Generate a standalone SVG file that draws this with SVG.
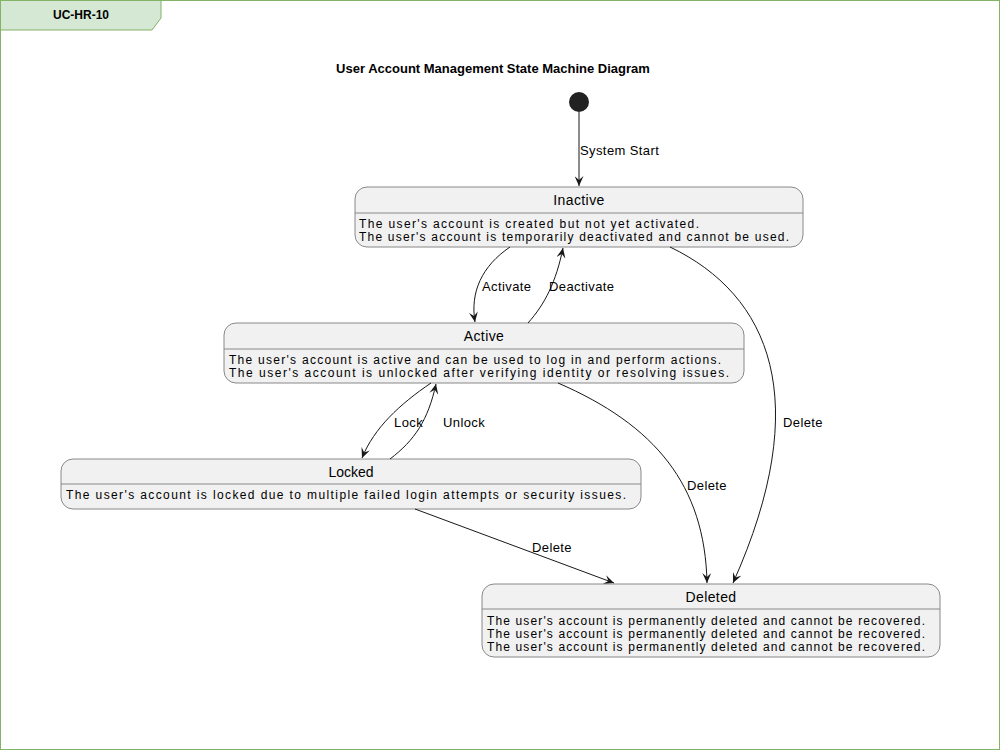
<svg xmlns="http://www.w3.org/2000/svg" width="1001" height="751" viewBox="0 0 1001 751">
<defs>
<marker id="ah" viewBox="0 0 10 9" refX="10" refY="4.5" markerWidth="10" markerHeight="9" markerUnits="userSpaceOnUse" orient="auto">
<path d="M0,0 L10,4.5 L0,9 L4,4.5 Z" fill="#181818"/>
</marker>
<style>
.frame{fill:#ffffff;stroke:#82b366;stroke-width:1}
.tab{fill:#d5e8d4;stroke:#82b366;stroke-width:1}
.box{fill:#f1f1f1;stroke:#888888;stroke-width:1}
.sep{stroke:#888888;stroke-width:1}
.name{font-family:"Liberation Sans",Arial,sans-serif;font-size:14px;fill:#000;text-anchor:middle;letter-spacing:0.4px}
.body{font-family:"Liberation Sans",Arial,sans-serif;font-size:12px;fill:#000}
.lbl{font-family:"Liberation Sans",Arial,sans-serif;font-size:13px;fill:#000;letter-spacing:0.4px}
.edge{fill:none;stroke:#181818;stroke-width:1;marker-end:url(#ah)}
</style>
</defs>
<rect class="frame" x="0.5" y="0.5" width="999" height="749"/>
<g id="tab">
<path class="tab" d="M0.5,0.5 L161,0.5 L161,18 L152,30 L0.5,30 Z"/>
<text x="81" y="19" font-family="Liberation Sans,Arial,sans-serif" font-size="12" font-weight="bold" text-anchor="middle">UC-HR-10</text>
</g>
<text id="title" x="493" y="73" font-family="Liberation Sans,Arial,sans-serif" font-size="13" font-weight="bold" text-anchor="middle">User Account Management State Machine Diagram</text>
<g id="start"><circle cx="579" cy="102" r="10" fill="#222222"/></g>
<g id="inactive">
<rect class="box" x="355" y="187" width="448" height="60" rx="12"/>
<line class="sep" x1="355" y1="213" x2="803" y2="213"/>
<text class="name" x="579" y="205">Inactive</text>
<text class="body" x="359" y="228" textLength="340" lengthAdjust="spacing">The user's account is created but not yet activated.</text>
<text class="body" x="359" y="241" textLength="430" lengthAdjust="spacing">The user's account is temporarily deactivated and cannot be used.</text>
</g>
<g id="active">
<rect class="box" x="224" y="323" width="520" height="60" rx="12"/>
<line class="sep" x1="224" y1="349" x2="744" y2="349"/>
<text class="name" x="484" y="341">Active</text>
<text class="body" x="229" y="364" textLength="492" lengthAdjust="spacing">The user's account is active and can be used to log in and perform actions.</text>
<text class="body" x="229" y="377" textLength="500" lengthAdjust="spacing">The user's account is unlocked after verifying identity or resolving issues.</text>
</g>
<g id="locked">
<rect class="box" x="61" y="459" width="580" height="50" rx="12"/>
<line class="sep" x1="61" y1="484" x2="641" y2="484"/>
<text class="name" x="351" y="477" style="letter-spacing:0">Locked</text>
<text class="body" x="66" y="499" textLength="560" lengthAdjust="spacing">The user's account is locked due to multiple failed login attempts or security issues.</text>
</g>
<g id="deleted">
<rect class="box" x="482" y="584" width="458" height="73" rx="12"/>
<line class="sep" x1="482" y1="609" x2="940" y2="609"/>
<text class="name" x="711" y="602">Deleted</text>
<text class="body" x="487" y="625" textLength="438" lengthAdjust="spacing">The user's account is permanently deleted and cannot be recovered.</text>
<text class="body" x="487" y="638" textLength="438" lengthAdjust="spacing">The user's account is permanently deleted and cannot be recovered.</text>
<text class="body" x="487" y="651" textLength="438" lengthAdjust="spacing">The user's account is permanently deleted and cannot be recovered.</text>
</g>
<g id="connectors">
<path class="edge" d="M579,112 L579,186"/>
<text class="lbl" x="580" y="155">System Start</text>
<path class="edge" d="M510,247 C482,266 470,292 475,322"/>
<text class="lbl" x="482" y="291">Activate</text>
<path class="edge" d="M528,323 C545,304 556,282 563,248"/>
<text class="lbl" x="549" y="291">Deactivate</text>
<path class="edge" d="M431,383 C400,404 374,428 362,458"/>
<text class="lbl" x="394" y="427">Lock</text>
<path class="edge" d="M390,459 C415,440 428,420 436,384"/>
<text class="lbl" x="443" y="427">Unlock</text>
<path class="edge" d="M670,247 C770,295 815,400 733,583"/>
<text class="lbl" x="783" y="427">Delete</text>
<path class="edge" d="M558,383 C655,425 705,485 707,583"/>
<text class="lbl" x="687" y="490">Delete</text>
<path class="edge" d="M415,509 L614,583"/>
<text class="lbl" x="532" y="552">Delete</text>
</g>
</svg>
